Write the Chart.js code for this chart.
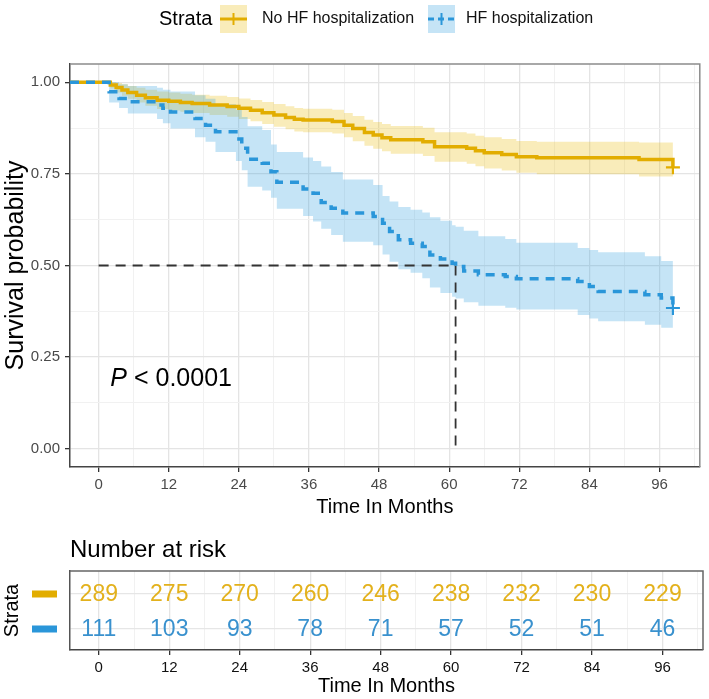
<!DOCTYPE html>
<html>
<head>
<meta charset="utf-8">
<script src="https://cdn.jsdelivr.net/npm/chart.js@4.4.1/dist/chart.umd.min.js"></script>
<style>
html, body { margin: 0; padding: 0; background: #ffffff; }
#wrap { position: relative; width: 709px; height: 699px; }
#main { position: absolute; left: 0; top: 0; }
#risk { position: absolute; left: 0; top: 520px; }
</style>
</head>
<body>
<div id="wrap">
  <canvas id="main" width="709" height="520"></canvas>
  <canvas id="risk" width="709" height="179"></canvas>
</div>
<script>
// ---------------- DATA ----------------
const strataLabels = ['No HF hospitalization', 'HF hospitalization'];
const legendTitle = 'Strata';

// No HF hospitalization (gold) Kaplan-Meier steps
const noHfTime  = [-4.9, 2, 3, 4, 5, 6.5, 8, 10, 12, 14, 16, 19, 22, 24, 26, 28, 30, 32, 33.5, 35, 40, 42, 43.5, 45.5, 47, 48.5, 50, 55.5, 57.5, 63, 64.5, 66, 69, 71.5, 75, 92.5, 98.3];
const noHfSurv  = [1, 0.993, 0.986, 0.979, 0.972, 0.965, 0.958, 0.951, 0.948, 0.945, 0.942, 0.938, 0.934, 0.929, 0.924, 0.917, 0.911, 0.904, 0.899, 0.897, 0.893, 0.883, 0.874, 0.863, 0.856, 0.849, 0.843, 0.838, 0.824, 0.82, 0.813, 0.808, 0.803, 0.797, 0.794, 0.789, 0.768];
const noHfUpper = [1, 1.0, 0.998, 0.995, 0.99, 0.985, 0.98, 0.975, 0.972, 0.969, 0.966, 0.963, 0.96, 0.956, 0.952, 0.946, 0.941, 0.935, 0.93, 0.928, 0.925, 0.916, 0.908, 0.898, 0.892, 0.886, 0.881, 0.876, 0.864, 0.86, 0.854, 0.85, 0.845, 0.84, 0.838, 0.836, 0.836];
const noHfLower = [1, 0.983, 0.972, 0.963, 0.955, 0.945, 0.936, 0.927, 0.923, 0.92, 0.916, 0.911, 0.906, 0.9, 0.894, 0.886, 0.879, 0.872, 0.866, 0.864, 0.86, 0.85, 0.839, 0.827, 0.819, 0.812, 0.805, 0.799, 0.783, 0.778, 0.771, 0.765, 0.759, 0.753, 0.749, 0.743, 0.743];

// HF hospitalization (blue) Kaplan-Meier steps
const hfTime  = [-4.9, 1.8, 3.5, 5, 10, 11, 12.3, 16.5, 18.3, 20, 23.5, 24.5, 25.5, 28, 29.5, 30.5, 35, 36.7, 38.1, 39.8, 41.8, 47, 48.6, 49.8, 51.3, 53.4, 55.4, 56.7, 58.5, 60.5, 61.1, 62.5, 65, 69.6, 71.5, 82, 84, 85.5, 93.5, 96.3, 98.3];
const hfSurv  = [1, 0.974, 0.956, 0.947, 0.938, 0.929, 0.919, 0.901, 0.883, 0.865, 0.845, 0.82, 0.79, 0.779, 0.756, 0.727, 0.709, 0.697, 0.672, 0.656, 0.643, 0.634, 0.615, 0.593, 0.57, 0.561, 0.552, 0.529, 0.518, 0.506, 0.497, 0.485, 0.475, 0.47, 0.464, 0.456, 0.443, 0.429, 0.42, 0.411, 0.384];
const hfUpper = [1, 1.0, 0.995, 0.99, 0.985, 0.98, 0.975, 0.965, 0.955, 0.94, 0.925, 0.905, 0.88, 0.87, 0.83, 0.81, 0.795, 0.785, 0.77, 0.755, 0.735, 0.72, 0.69, 0.675, 0.66, 0.652, 0.645, 0.632, 0.622, 0.61, 0.606, 0.595, 0.58, 0.572, 0.562, 0.548, 0.542, 0.536, 0.525, 0.512, 0.512];
const hfLower = [1, 0.945, 0.93, 0.915, 0.9, 0.888, 0.874, 0.85, 0.838, 0.81, 0.785, 0.76, 0.715, 0.705, 0.685, 0.655, 0.635, 0.62, 0.6, 0.583, 0.565, 0.555, 0.53, 0.51, 0.49, 0.48, 0.465, 0.44, 0.425, 0.415, 0.41, 0.4, 0.39, 0.385, 0.38, 0.365, 0.355, 0.348, 0.338, 0.33, 0.33];

// median survival reference
const medianTime = 61.1;
const medianSurv = 0.5;

// p-value annotation (text + data position)
const pLabel = ['P', ' < 0.0001'];
const pPos = [2, 0.19];

// axes
const xRange = [-4.9, 102.9];
const yRange = [-0.05, 1.05];
const xTicks = [0, 12, 24, 36, 48, 60, 72, 84, 96];
const xMinorTicks = [6, 18, 30, 42, 54, 66, 78, 90, 102];
const yTicks = [0, 0.25, 0.5, 0.75, 1];
const yMinorTicks = [0.125, 0.375, 0.625, 0.875];

// number at risk table
const riskTitle = 'Number at risk';
const riskTimes = [0, 12, 24, 36, 48, 60, 72, 84, 96];
const riskNoHf  = [289, 275, 270, 260, 246, 238, 232, 230, 229];
const riskHf    = [111, 103, 93, 78, 71, 57, 52, 51, 46];
const riskRows  = [1, 0];

// ---------------- STYLE ----------------
const FONT = "'Liberation Sans', Arial, Helvetica, sans-serif";
Chart.defaults.font.family = FONT;
Chart.defaults.color = '#333';
const GOLD = '#E2AD00', BLUE = '#2A96D9';
const GOLD_FILL = 'rgba(231,184,0,0.27)', BLUE_FILL = 'rgba(46,159,223,0.28)';
const GOLD_TEXT = '#E3B11C', BLUE_TEXT = '#3991CE';

function pts(t, v) { return t.map((x, i) => ({ x: x, y: v[i] })); }
const allX = xTicks.concat(xMinorTicks).sort((a, b) => a - b);
const allY = yTicks.concat(yMinorTicks).sort((a, b) => a - b);
const isMajorX = v => xTicks.includes(v);
const isMajorY = v => yTicks.includes(v);

function xScaleOpts(height, tickColor) {
  return {
    type: 'linear', min: xRange[0], max: xRange[1],
    afterBuildTicks: s => { s.ticks = allX.map(v => ({ value: v })); },
    afterFit: s => { s.height = height; },
    ticks: { autoSkip: false, maxRotation: 0, minRotation: 0, padding: 4, color: tickColor, font: { size: 15 },
      callback: v => isMajorX(v) ? String(v) : '' },
    grid: {
      color: c => (c.tick && isMajorX(c.tick.value)) ? '#e4e4e4' : '#f1f1f1',
      lineWidth: c => (c.tick && isMajorX(c.tick.value)) ? 1.3 : 1,
      tickLength: 5,
      tickColor: c => (c.tick && isMajorX(c.tick.value)) ? '#333' : 'rgba(0,0,0,0)',
      tickWidth: 1.3
    },
    border: { display: true, color: '#444', width: 1.5 },
    title: { display: true, text: 'Time In Months', color: '#000', font: { size: 20 }, padding: { top: 0, bottom: 1 } }
  };
}

// ---------------- MAIN PLOT ----------------
const last = a => a[a.length - 1];

const mainDecor = {
  id: 'mainDecor',
  afterDraw(chart) {
    const { ctx, chartArea: a, scales: { x, y } } = chart;
    ctx.save();
    ctx.strokeStyle = '#8c8c8c'; ctx.lineWidth = 1.5;
    ctx.beginPath(); ctx.moveTo(a.left, a.top); ctx.lineTo(a.right, a.top); ctx.lineTo(a.right, a.bottom); ctx.stroke();

    // p-value
    const px = x.getPixelForValue(pPos[0]), py = y.getPixelForValue(pPos[1]);
    ctx.fillStyle = '#000'; ctx.textBaseline = 'middle'; ctx.textAlign = 'left';
    ctx.font = 'italic 25px ' + FONT;
    ctx.fillText(pLabel[0], px, py);
    const w = ctx.measureText(pLabel[0]).width;
    ctx.font = '25px ' + FONT;
    ctx.fillText(pLabel[1], px + w, py);

    // legend
    const ly = 19;
    ctx.font = '20px ' + FONT; ctx.fillStyle = '#000';
    ctx.fillText(legendTitle, 159, ly);
    function key(x0, color, fill, dash) {
      ctx.fillStyle = fill; ctx.fillRect(x0, ly - 14, 27, 28);
      ctx.strokeStyle = color; ctx.lineWidth = 3; ctx.setLineDash(dash);
      ctx.beginPath(); ctx.moveTo(x0, ly); ctx.lineTo(x0 + 27, ly); ctx.stroke();
      ctx.setLineDash([]); ctx.lineWidth = 2;
      ctx.beginPath(); ctx.moveTo(x0 + 13.5, ly - 6); ctx.lineTo(x0 + 13.5, ly + 6); ctx.stroke();
    }
    key(220, GOLD, GOLD_FILL, []);
    key(428, BLUE, BLUE_FILL, [6, 4]);
    ctx.font = '16px ' + FONT; ctx.fillStyle = '#111';
    ctx.fillText(strataLabels[0], 262, ly);
    ctx.fillText(strataLabels[1], 466, ly);
    ctx.restore();
  }
};

new Chart(document.getElementById('main'), {
  type: 'line',
  data: {
    datasets: [
      { label: strataLabels[1], data: pts(hfTime, hfSurv), borderColor: BLUE, borderWidth: 3.5, borderDash: [9, 7],
        stepped: 'before', pointRadius: 0, fill: false, order: 0 },
      { label: strataLabels[0], data: pts(noHfTime, noHfSurv), borderColor: GOLD, borderWidth: 3.5,
        stepped: 'before', pointRadius: 0, fill: false, order: 1 },
      { label: 'censor', data: [{ x: last(noHfTime), y: last(noHfSurv) }, { x: last(hfTime), y: last(hfSurv) }],
        showLine: false, pointStyle: 'cross', pointRadius: 7, pointBorderWidth: 2.2,
        pointBorderColor: [GOLD, BLUE], borderColor: [GOLD, BLUE], order: -1 },
      { label: 'median', data: [{ x: 0, y: medianSurv }, { x: medianTime, y: medianSurv }, { x: medianTime, y: 0 }],
        borderColor: '#333', borderWidth: 1.8, borderDash: [10, 7], pointRadius: 0, fill: false, order: 2 },
      { label: 'hf upper', data: pts(hfTime, hfUpper), borderWidth: 0, borderColor: 'rgba(0,0,0,0)',
        backgroundColor: BLUE_FILL, stepped: 'before', pointRadius: 0, fill: '+1', order: 3 },
      { label: 'hf lower', data: pts(hfTime, hfLower), borderWidth: 0, borderColor: 'rgba(0,0,0,0)',
        stepped: 'before', pointRadius: 0, fill: false, order: 4 },
      { label: 'nohf upper', data: pts(noHfTime, noHfUpper), borderWidth: 0, borderColor: 'rgba(0,0,0,0)',
        backgroundColor: GOLD_FILL, stepped: 'before', pointRadius: 0, fill: '+1', order: 5 },
      { label: 'nohf lower', data: pts(noHfTime, noHfLower), borderWidth: 0, borderColor: 'rgba(0,0,0,0)',
        stepped: 'before', pointRadius: 0, fill: false, order: 6 }
    ]
  },
  options: {
    responsive: false, animation: false,
    layout: { padding: { top: 64, right: 6, left: 0, bottom: 0 } },
    plugins: { legend: { display: false }, tooltip: { enabled: false }, title: { display: false } },
    elements: { line: { tension: 0 } },
    scales: {
      x: xScaleOpts(53, '#4a4a4a'),
      y: {
        type: 'linear', min: yRange[0], max: yRange[1],
        afterBuildTicks: s => { s.ticks = allY.map(v => ({ value: v })); },
        afterFit: s => { s.width = 70; },
        ticks: { autoSkip: false, padding: 5, color: '#4a4a4a', font: { size: 15 },
          callback: v => isMajorY(v) ? v.toFixed(2) : '' },
        grid: {
          color: c => (c.tick && isMajorY(c.tick.value)) ? '#e4e4e4' : '#f1f1f1',
          lineWidth: c => (c.tick && isMajorY(c.tick.value)) ? 1.3 : 1,
          tickLength: 5,
          tickColor: c => (c.tick && isMajorY(c.tick.value)) ? '#333' : 'rgba(0,0,0,0)',
          tickWidth: 1.3
        },
        border: { display: true, color: '#444', width: 1.5 },
        title: { display: true, text: 'Survival probability', color: '#000', font: { size: 25 }, padding: { top: 1, bottom: 0 } }
      }
    }
  },
  plugins: [mainDecor]
});

// ---------------- RISK TABLE ----------------
const riskDecor = {
  id: 'riskDecor',
  afterDraw(chart) {
    const { ctx, chartArea: a, scales: { y } } = chart;
    ctx.save();
    ctx.strokeStyle = '#666'; ctx.lineWidth = 1.5;
    ctx.beginPath(); ctx.moveTo(a.left, a.top); ctx.lineTo(a.right, a.top); ctx.lineTo(a.right, a.bottom); ctx.stroke();

    // title
    ctx.fillStyle = '#000'; ctx.textAlign = 'left'; ctx.textBaseline = 'middle';
    ctx.font = '24px ' + FONT;
    ctx.fillText(riskTitle, a.left, 30);

    // strata colour keys
    const cols = [GOLD, BLUE];
    riskRows.forEach((r, i) => {
      const yy = y.getPixelForValue(r);
      ctx.fillStyle = cols[i];
      ctx.fillRect(32, yy - 3.5, 25, 7);
    });

    // numbers
    const vals = [riskNoHf, riskHf];
    const tcols = [GOLD_TEXT, BLUE_TEXT];
    ctx.font = '23px ' + FONT; ctx.textAlign = 'center';
    [0, 1].forEach(i => {
      const meta = chart.getDatasetMeta(i);
      ctx.fillStyle = tcols[i];
      meta.data.forEach((el, j) => { ctx.fillText(String(vals[i][j]), el.x, el.y + 1); });
    });
    ctx.restore();
  }
};

new Chart(document.getElementById('risk'), {
  type: 'line',
  data: {
    datasets: [
      { label: strataLabels[0], data: riskTimes.map(t => ({ x: t, y: riskRows[0] })), showLine: false, pointRadius: 0 },
      { label: strataLabels[1], data: riskTimes.map(t => ({ x: t, y: riskRows[1] })), showLine: false, pointRadius: 0 }
    ]
  },
  options: {
    responsive: false, animation: false,
    layout: { padding: { top: 51, right: 6, left: 0, bottom: 0 } },
    plugins: { legend: { display: false }, tooltip: { enabled: false } },
    scales: {
      x: xScaleOpts(49, '#111'),
      y: {
        type: 'linear', min: -0.6, max: 1.657,
        afterBuildTicks: s => { s.ticks = riskRows.map(v => ({ value: v })); },
        afterFit: s => { s.width = 70; },
        ticks: { callback: () => '', padding: 0 },
        grid: { color: '#e6e6e6', lineWidth: 1.3, drawTicks: false },
        border: { display: true, color: '#555', width: 1.5 },
        title: { display: true, text: 'Strata', color: '#000', font: { size: 20 }, padding: { top: 0, bottom: 0 } }
      }
    }
  },
  plugins: [riskDecor]
});
</script>
</body>
</html>
